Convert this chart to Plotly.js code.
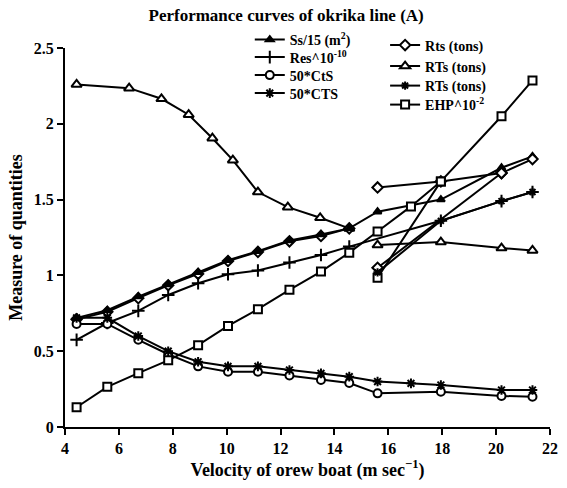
<!DOCTYPE html>
<html>
<head>
<meta charset="utf-8">
<script src="https://cdn.plot.ly/plotly-3.0.1.min.js"></script>
<style>html,body{margin:0;padding:0;background:#fff;}#chart{width:567px;height:488px;}</style>
</head>
<body>
<div id="chart"></div>
<script>
// ---- data ----
var vMain = [4.43, 5.57, 6.72, 7.83, 8.94, 10.05, 11.16, 12.33, 13.5, 14.55];
var vHigh = [15.6, 17.95, 20.2, 21.35];

var ss15V = [4.43, 5.57, 6.72, 7.83, 8.94, 10.05, 11.16, 12.33, 13.5, 14.55, 15.6, 17.95, 20.2, 21.35];
var ss15Q = [0.72, 0.77, 0.86, 0.94, 1.02, 1.10, 1.16, 1.23, 1.27, 1.31, 1.42, 1.50, 1.71, 1.785];

var resV = [4.43, 5.57, 6.72, 7.83, 8.94, 10.05, 11.16, 12.33, 13.5, 14.55, 17.95, 20.2, 21.35];
var resQ = [0.575, 0.686, 0.766, 0.871, 0.948, 1.008, 1.032, 1.085, 1.135, 1.19, 1.36, 1.49, 1.55];

var ctsV = [4.43, 5.57, 6.72, 7.83, 8.94, 10.05, 11.16, 12.33, 13.5, 14.55, 15.6, 17.95, 20.2, 21.35];
var ctsQ = [0.68, 0.68, 0.575, 0.48, 0.40, 0.365, 0.365, 0.34, 0.31, 0.29, 0.222, 0.233, 0.205, 0.20];

var ctsBigV = [4.43, 5.57, 6.72, 7.83, 8.94, 10.05, 11.16, 12.33, 13.5, 14.55, 15.6, 16.84, 17.95, 20.2, 21.35];
var ctsBigQ = [0.72, 0.72, 0.60, 0.50, 0.43, 0.40, 0.40, 0.376, 0.354, 0.332, 0.30, 0.288, 0.277, 0.244, 0.244];

var rtsDiaLowQ = [0.71, 0.76, 0.85, 0.935, 1.01, 1.095, 1.155, 1.225, 1.26, 1.31];
var rtsDiaHighQ = [1.58, 1.62, 1.675, 1.767];
var rtsDiaSteepV = [15.6, 20.2];
var rtsDiaSteepQ = [1.05, 1.675];

var dropV = [4.43, 6.38, 7.58, 8.59, 9.47, 10.23, 11.16, 12.27, 13.47, 14.55];
var dropQ = [2.26, 2.235, 2.165, 2.06, 1.905, 1.76, 1.55, 1.45, 1.38, 1.31];
var rtsTriQ = [1.20, 1.22, 1.18, 1.165];

var rtsStarQ = [1.02, 1.36, 1.49, 1.55];

var ehpV = [4.43, 5.57, 6.72, 7.83, 8.94, 10.05, 11.16, 12.33, 13.5, 14.55, 15.6, 16.84, 17.95];
var ehpQ = [0.13, 0.265, 0.355, 0.44, 0.54, 0.667, 0.777, 0.905, 1.025, 1.15, 1.29, 1.455, 1.62];
var ehpHighQ = [0.985, 1.62, 2.05, 2.286];

var names = ['Ss/15 (m<sup>2</sup>)', 'Res^10<sup>-10</sup>', '50*CtS', '50*CTS',
             'Rts (tons)', 'RTs (tons)', 'RTs (tons)', 'EHP^10<sup>-2</sup>'];

// ---- styling helpers ----
var LW = 2;
function tr(x, y, name, sym, size, fill, legend, show) {
  return {
    x: x, y: y, name: name, type: 'scatter', mode: 'lines+markers',
    line: {color: '#000', width: LW},
    marker: {symbol: sym, size: size, color: fill, line: {color: '#000', width: 2}},
    legend: legend || 'legend', showlegend: show !== false, hoverinfo: 'skip'
  };
}

var traces = [
  // extra (no legend) traces drawn first
  tr(dropV, dropQ, 'RTs (tons)', 'triangle-up', 9, '#fff', 'legend', false),
  tr(vMain, rtsDiaLowQ, 'Rts (tons)', 'diamond', 8, '#fff', 'legend', false),
  tr(rtsDiaSteepV, rtsDiaSteepQ, 'Rts (tons)', 'diamond', 8, '#fff', 'legend', false),
  tr(vHigh, ehpHighQ, 'EHP', 'square', 8, '#fff', 'legend', false),
  // legend column 1
  tr(ss15V, ss15Q, names[0], 'triangle-up', 7, '#000', 'legend'),
  tr(resV, resQ, names[1], 'cross-thin-open', 9, '#000', 'legend2'),
  tr(ctsV, ctsQ, names[2], 'circle', 8, '#fff', 'legend3'),
  tr(ctsBigV, ctsBigQ, names[3], 'asterisk-open', 8, '#000', 'legend4'),
  // legend column 2
  tr(vHigh, rtsDiaHighQ, names[4], 'diamond', 8, '#fff', 'legend5'),
  tr(vHigh, rtsTriQ, names[5], 'triangle-up', 9, '#fff', 'legend6'),
  tr(vHigh, rtsStarQ, names[6], 'asterisk-open', 7, '#000', 'legend7'),
  tr(ehpV, ehpQ, names[7], 'square', 8, '#fff', 'legend8')
];

var FONT = 'Liberation Serif, Times New Roman, serif';
var legFont = {family: FONT, size: 14, color: '#000', weight: 'bold'};

// plot area in pixels: top 48, bottom 427
var PT = 48, PB = 427;
var legRowsPx = [40, 57.5, 75.5, 93.5, 45.5, 66.5, 86, 105];
var legColX = [0.381, 0.381, 0.381, 0.381, 0.660, 0.660, 0.660, 0.660];

var layout = {
  width: 567, height: 488,
  margin: {l: 65, r: 17, t: PT, b: 488 - PB, pad: 0},
  paper_bgcolor: '#fff', plot_bgcolor: '#fff',
  font: {family: FONT, color: '#000', size: 14},
  title: {
    text: 'Performance curves of okrika line (A)',
    font: {family: FONT, size: 17, color: '#000', weight: 'bold'},
    xref: 'paper', x: 0.456, xanchor: 'center',
    yref: 'container', y: 0.969, yanchor: 'middle'
  },
  xaxis: {
    range: [4, 22], dtick: 2, tick0: 4,
    showgrid: false, zeroline: false,
    showline: true, linecolor: '#000', linewidth: 2,
    ticks: 'outside', ticklen: 6, tickwidth: 2, tickcolor: '#000',
    tickfont: {family: FONT, size: 16, color: '#000', weight: 'bold'},
    title: {text: 'Velocity of orew boat (m sec<sup>−1</sup>)', standoff: 6,
            font: {family: FONT, size: 18, color: '#000', weight: 'bold'}}
  },
  yaxis: {
    range: [0, 2.5], dtick: 0.5, tick0: 0,
    showgrid: false, zeroline: false,
    showline: true, linecolor: '#000', linewidth: 2,
    ticks: 'outside', ticklen: 6, tickwidth: 2, tickcolor: '#000',
    tickfont: {family: FONT, size: 16, color: '#000', weight: 'bold'},
    title: {text: 'Measure of quantities', standoff: 6,
            font: {family: FONT, size: 18, color: '#000', weight: 'bold'}}
  }
};

for (var i = 0; i < 8; i++) {
  var key = i === 0 ? 'legend' : 'legend' + (i + 1);
  layout[key] = {
    x: legColX[i], xanchor: 'left',
    y: (PB - legRowsPx[i]) / (PB - PT), yanchor: 'middle',
    bgcolor: 'rgba(0,0,0,0)', font: legFont, itemwidth: 30,
    borderwidth: 0
  };
}

Plotly.newPlot('chart', traces, layout, {displayModeBar: false});
</script>
</body>
</html>
